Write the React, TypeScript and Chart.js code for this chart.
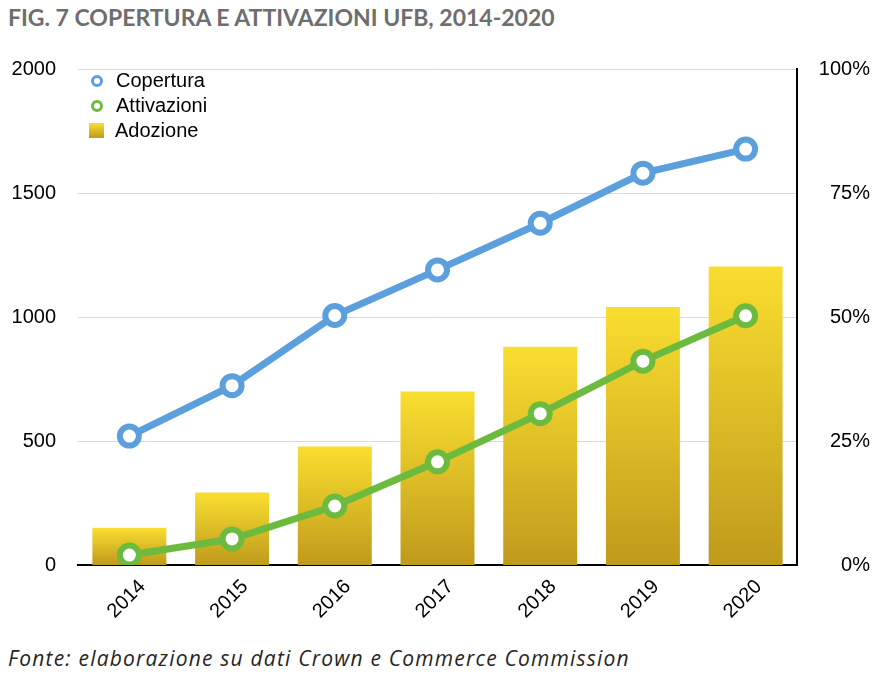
import { useEffect, useRef } from 'react';
import { Chart, registerables } from 'chart.js';

Chart.register(...registerables);

const years = ['2014', '2015', '2016', '2017', '2018', '2019', '2020'];
const copertura = [520, 723, 1006, 1190, 1378, 1580, 1677];
const attivazioni = [40, 105, 238, 416, 610, 822, 1005];
const adozione = [7.5, 14.6, 23.9, 35, 44, 52, 60.2];

const BLUE = '#5b9fdc';
const GREEN = '#6cbb3f';
const FONT = '"Liberation Sans", Arial, sans-serif';

function barGradient(ctx: any) {
  const chart = ctx.chart;
  const scale = chart.scales && chart.scales.y2;
  if (!scale || ctx.raw === undefined) return '#e8c626';
  const top = scale.getPixelForValue(ctx.raw);
  const bottom = scale.getPixelForValue(0);
  if (!isFinite(top) || !isFinite(bottom) || top === bottom) return '#e8c626';
  const g = chart.ctx.createLinearGradient(0, top, 0, bottom);
  g.addColorStop(0, '#f9de30');
  g.addColorStop(1, '#bf9a1c');
  return g;
}

export default function App() {
  const canvasRef = useRef<HTMLCanvasElement>(null);
  const chartRef = useRef<Chart | null>(null);

  useEffect(() => {
    if (!canvasRef.current) return;
    if (chartRef.current) chartRef.current.destroy();

    chartRef.current = new Chart(canvasRef.current, {
      type: 'bar',
      data: {
        labels: years,
        datasets: [
          {
            type: 'line',
            label: 'Copertura',
            data: copertura,
            yAxisID: 'y',
            borderColor: BLUE,
            borderWidth: 7,
            pointRadius: 9.5,
            pointBorderWidth: 6,
            pointBackgroundColor: '#ffffff',
            pointBorderColor: BLUE,
            order: 1,
          },
          {
            type: 'line',
            label: 'Attivazioni',
            data: attivazioni,
            yAxisID: 'y',
            borderColor: GREEN,
            borderWidth: 7,
            pointRadius: 9.5,
            pointBorderWidth: 6,
            pointBackgroundColor: '#ffffff',
            pointBorderColor: GREEN,
            order: 2,
          },
          {
            type: 'bar',
            label: 'Adozione',
            data: adozione,
            yAxisID: 'y2',
            backgroundColor: barGradient,
            categoryPercentage: 1,
            barPercentage: 0.72,
            order: 3,
          },
        ],
      },
      options: {
        responsive: false,
        animation: false,
        layout: { padding: { top: 4, right: 12, left: 0, bottom: 0 } },
        plugins: {
          legend: { display: false },
          tooltip: { enabled: false },
        },
        scales: {
          x: {
            grid: { display: false },
            border: { display: true, color: '#000000', width: 2 },
            ticks: {
              color: '#000000',
              font: { family: FONT, size: 20 },
              minRotation: 45,
              maxRotation: 45,
              padding: 2,
              labelOffset: 13,
            },
            afterFit: (s: any) => {
              s.height = 75;
            },
          },
          y: {
            position: 'left',
            min: 0,
            max: 2000,
            ticks: {
              stepSize: 500,
              color: '#000000',
              font: { family: FONT, size: 20 },
              padding: 22,
              callback: (v: any) => String(v),
            },
            grid: { color: '#d9d9d9', lineWidth: 1, drawTicks: false },
            border: { display: false },
            afterFit: (s: any) => {
              s.width = 78;
            },
          },
          y2: {
            position: 'right',
            min: 0,
            max: 100,
            ticks: {
              stepSize: 25,
              color: '#000000',
              font: { family: FONT, size: 20 },
              padding: 22,
              crossAlign: 'far',
              callback: (v: any) => v + '%',
            },
            grid: { display: false, drawTicks: false },
            border: { display: true, color: '#000000', width: 2 },
            afterFit: (s: any) => {
              s.width = 73;
            },
          },
        },
      },
    } as any);

    return () => {
      if (chartRef.current) chartRef.current.destroy();
      chartRef.current = null;
    };
  }, []);

  const ring = (color: string) => ({
    display: 'inline-block',
    width: 6,
    height: 6,
    borderRadius: '50%',
    border: `3px solid ${color}`,
    boxSizing: 'content-box' as const,
    marginLeft: 2,
    marginRight: 13,
  });

  const rowStyle = {
    display: 'flex',
    alignItems: 'center',
    height: 25,
  };

  return (
    <div
      style={{
        position: 'absolute',
        left: 0,
        top: 0,
        width: 882,
        height: 676,
        background: '#ffffff',
        overflow: 'hidden',
      }}
    >
      <div
        style={{
          position: 'absolute',
          left: 8,
          top: 3,
          fontFamily: 'Lato, "Open Sans", sans-serif',
          fontWeight: 700,
          fontSize: 23,
          color: '#6e6e6e',
          whiteSpace: 'nowrap',
        }}
      >
        FIG. 7 COPERTURA E ATTIVAZIONI UFB, 2014-2020
      </div>
      <canvas
        ref={canvasRef}
        width={882}
        height={605}
        style={{ position: 'absolute', left: 0, top: 35, width: 882, height: 605 }}
      />
      <div
        style={{
          position: 'absolute',
          left: 89,
          top: 68,
          fontFamily: FONT,
          fontSize: 20,
          color: '#000000',
        }}
      >
        <div style={rowStyle}>
          <span style={ring(BLUE)} />
          Copertura
        </div>
        <div style={rowStyle}>
          <span style={ring(GREEN)} />
          Attivazioni
        </div>
        <div style={rowStyle}>
          <span
            style={{
              display: 'inline-block',
              width: 15,
              height: 15,
              background: 'linear-gradient(#f9de30, #bf9a1c)',
              marginRight: 11,
            }}
          />
          Adozione
        </div>
      </div>
      <div
        style={{
          position: 'absolute',
          left: 8,
          top: 644,
          fontFamily: '"Open Sans", Lato, sans-serif',
          fontStyle: 'italic',
          fontSize: 21,
          letterSpacing: 1.2,
          color: '#262626',
          whiteSpace: 'nowrap',
        }}
      >
        Fonte: elaborazione su dati Crown e Commerce Commission
      </div>
    </div>
  );
}
